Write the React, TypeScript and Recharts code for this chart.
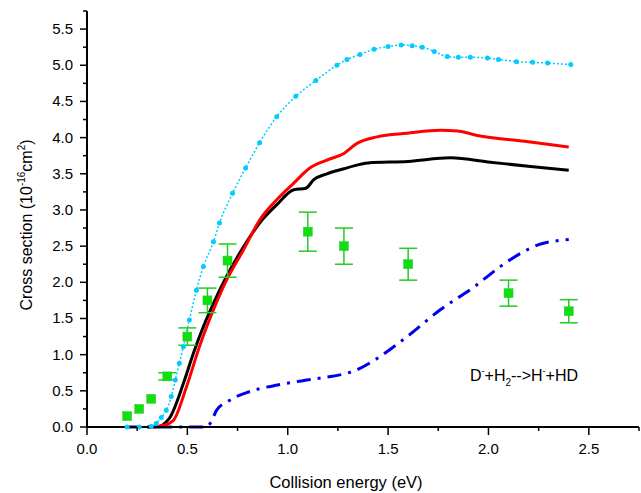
import React from 'react'
import { ComposedChart, Line, Scatter, ErrorBar, XAxis, YAxis } from 'recharts'

// black solid curve
const blackE = [0.3, 0.345, 0.41, 0.48, 0.53, 0.58, 0.63, 0.695, 0.78, 0.86, 0.945, 1.03, 1.09, 1.13, 1.195, 1.28, 1.36, 1.4, 1.6, 1.81, 2.01, 2.21, 2.4]
const blackS = [0, 0, 0.12, 0.6, 1.02, 1.39, 1.71, 2.08, 2.49, 2.82, 3.07, 3.28, 3.3, 3.42, 3.5, 3.57, 3.63, 3.65, 3.67, 3.72, 3.66, 3.6, 3.55]

// red curve
const redE = [0.33, 0.38, 0.43, 0.495, 0.56, 0.63, 0.695, 0.78, 0.86, 0.945, 1.03, 1.11, 1.195, 1.28, 1.345, 1.445, 1.595, 1.76, 1.845, 1.945, 2.18, 2.4]
const redS = [0, 0.02, 0.09, 0.55, 1.11, 1.62, 2.03, 2.45, 2.86, 3.14, 3.37, 3.58, 3.69, 3.78, 3.92, 4.01, 4.06, 4.1, 4.09, 4.03, 3.95, 3.87]

// cyan dotted curve
const cyanE = [0.2, 0.26, 0.32, 0.345, 0.37, 0.395, 0.42, 0.44, 0.46, 0.48, 0.51, 0.545, 0.58, 0.63, 0.66, 0.725, 0.79, 0.86, 0.945, 1.04, 1.14, 1.245, 1.295, 1.36, 1.43, 1.5, 1.565, 1.62, 1.67, 1.73, 1.795, 1.85, 1.91, 1.995, 2.05, 2.14, 2.22, 2.295, 2.41]
const cyanS = [0, 0, 0.01, 0.05, 0.13, 0.23, 0.42, 0.65, 0.88, 1.11, 1.48, 1.89, 2.22, 2.56, 2.82, 3.23, 3.58, 3.93, 4.29, 4.57, 4.79, 5.0, 5.08, 5.15, 5.22, 5.26, 5.28, 5.27, 5.25, 5.19, 5.12, 5.11, 5.11, 5.1, 5.08, 5.05, 5.04, 5.03, 5.01]

// blue dash-dot curve
const blueE = [0.2, 0.4, 0.595, 0.62, 0.645, 0.7, 0.745, 0.8, 0.86, 0.95, 1.03, 1.195, 1.26, 1.36, 1.43, 1.595, 1.76, 1.93, 2.06, 2.16, 2.26, 2.33, 2.4]
const blueS = [0, 0, 0, 0.08, 0.23, 0.35, 0.42, 0.48, 0.53, 0.58, 0.62, 0.69, 0.72, 0.81, 0.92, 1.25, 1.62, 1.94, 2.22, 2.4, 2.53, 2.57, 2.59]

// experiment (green squares)
const expE = [0.2, 0.26, 0.32, 0.4, 0.5, 0.6, 0.7, 1.1, 1.28, 1.6, 2.1, 2.4]
const expS = [0.15, 0.25, 0.39, 0.7, 1.25, 1.75, 2.3, 2.7, 2.5, 2.25, 1.85, 1.6]
const expErr = [0, 0, 0, 0.05, 0.12, 0.17, 0.23, 0.27, 0.25, 0.22, 0.18, 0.16]

const xTicks = [0, 0.25, 0.5, 0.75, 1, 1.25, 1.5, 1.75, 2, 2.25, 2.5, 2.75]
const yTicks = [0, 0.25, 0.5, 0.75, 1, 1.25, 1.5, 1.75, 2, 2.25, 2.5, 2.75, 3, 3.25, 3.5, 3.75, 4, 4.25, 4.5, 4.75, 5, 5.25, 5.5, 5.75]

const zip = (xs: number[], ys: number[]) => xs.map((x, i) => ({ x, y: ys[i] }))
const black = zip(blackE, blackS)
const red = zip(redE, redS)
const cyan = zip(cyanE, cyanS)
const blue = zip(blueE, blueS)
const exp = expE.map((x, i) => ({ x, y: expS[i], err: expErr[i] }))

const FONT = '"Liberation Sans", Arial, sans-serif'
const isMajor = (v: number) => Math.abs(v * 2 - Math.round(v * 2)) < 1e-6

const BottomTick = ({ x, y, payload }: any) => {
  const major = isMajor(payload.value)
  return (
    <g>
      <line x1={x} x2={x} y1={y} y2={y + (major ? 8 : 4)} stroke="#000" strokeWidth={1.5} />
      {major && payload.value < 2.7 && (
        <text x={x} y={y + 27} textAnchor="middle" fontSize={15} fontFamily={FONT} fill="#000">
          {payload.value.toFixed(1)}
        </text>
      )}
    </g>
  )
}

const TopTick = ({ x, y, payload }: any) => {
  const major = isMajor(payload.value)
  return <line x1={x} x2={x} y1={y} y2={y + (major ? 8 : 4)} stroke="#000" strokeWidth={1.5} />
}

const LeftTick = ({ x, y, payload }: any) => {
  const major = isMajor(payload.value)
  return (
    <g>
      <line x1={x} x2={x - (major ? 7 : 4)} y1={y} y2={y} stroke="#000" strokeWidth={1.5} />
      {major && (
        <text x={x - 14} y={y + 5} textAnchor="end" fontSize={15} fontFamily={FONT} fill="#000">
          {payload.value.toFixed(1)}
        </text>
      )}
    </g>
  )
}

const RightTick = ({ x, y, payload }: any) => {
  const major = isMajor(payload.value)
  return <line x1={x} x2={x - (major ? 8 : 4)} y1={y} y2={y} stroke="#000" strokeWidth={1.5} />
}

const Square = (props: any) => {
  const { cx, cy } = props
  return <rect x={cx - 4.5} y={cy - 4.5} width={9} height={9} fill="#11dd11" stroke="#33cc33" strokeWidth={0.5} />
}

const axisLine = { stroke: '#000', strokeWidth: 2 }

export default function App() {
  return (
    <div style={{ position: 'absolute', left: 0, top: 0, width: 641, height: 493, background: '#fff' }}>
      <ComposedChart width={641} height={493} margin={{ top: 11, right: 2, bottom: 0, left: 0 }}>
        <XAxis
          dataKey="x"
          type="number"
          domain={[0, 2.75]}
          ticks={xTicks}
          interval={0}
          tickSize={0}
          tickMargin={0}
          tickLine={false}
          axisLine={axisLine}
          height={66}
          tick={<BottomTick />}
          label={{
            content: () => (
              <text x={346} y={488} textAnchor="middle" fontSize={16.5} fontFamily={FONT} fill="#000">
                Collision energy (eV)
              </text>
            ),
          }}
        />
        <XAxis
          xAxisId="top"
          orientation="top"
          dataKey="x"
          type="number"
          domain={[0, 2.75]}
          ticks={xTicks}
          interval={0}
          tickSize={0}
          tickMargin={0}
          tickLine={false}
          axisLine={axisLine}
          height={0}
          tick={<TopTick />}
        />
        <YAxis
          type="number"
          domain={[0, 5.75]}
          ticks={yTicks}
          interval={0}
          tickSize={0}
          tickMargin={0}
          tickLine={false}
          axisLine={axisLine}
          width={87}
          tick={<LeftTick />}
          label={{
            content: () => (
              <text transform="rotate(-90)" x={-225} y={32} textAnchor="middle" fontSize={16} fontFamily={FONT} fill="#000">
                Cross section (10
                <tspan dy={-7} fontSize={10}>-16</tspan>
                <tspan dy={7}>cm</tspan>
                <tspan dy={-7} fontSize={10}>2</tspan>
                <tspan dy={7}>)</tspan>
              </text>
            ),
          }}
        />
        <YAxis
          yAxisId="r"
          orientation="right"
          type="number"
          domain={[0, 5.75]}
          ticks={yTicks}
          interval={0}
          tickSize={0}
          tickMargin={0}
          tickLine={false}
          axisLine={axisLine}
          width={0}
          tick={<RightTick />}
        />
        <Line
          data={cyan}
          dataKey="y"
          type="monotone"
          stroke="#00ccff"
          strokeWidth={1.5}
          strokeDasharray="2 2"
          dot={{ r: 2.5, fill: '#00ccff', stroke: 'none' }}
          isAnimationActive={false}
        />
        <Line
          data={blue}
          dataKey="y"
          type="monotone"
          stroke="#0000ee"
          strokeWidth={3}
          strokeDasharray="14 7 3 7"
          dot={false}
          isAnimationActive={false}
        />
        <Line data={black} dataKey="y" type="monotone" stroke="#000" strokeWidth={3} dot={false} isAnimationActive={false} />
        <Line data={red} dataKey="y" type="monotone" stroke="#ff0000" strokeWidth={3} dot={false} isAnimationActive={false} />
        <Scatter data={exp} dataKey="y" shape={<Square />} isAnimationActive={false}>
          <ErrorBar dataKey="err" direction="y" width={9} stroke="#22cc22" strokeWidth={1.5} isAnimationActive={false} />
        </Scatter>
      </ComposedChart>
      <svg width={641} height={493} style={{ position: 'absolute', left: 0, top: 0, pointerEvents: 'none' }}>
        <text x={470} y={381} fontSize={16} fontFamily={FONT} fill="#000">
          D<tspan dy={-7} fontSize={9}>-</tspan>
          <tspan dy={7}>+H</tspan>
          <tspan dy={5} fontSize={10}>2</tspan>
          <tspan dy={-5}>--&gt;H</tspan>
          <tspan dy={-7} fontSize={9}>-</tspan>
          <tspan dy={7}>+HD</tspan>
        </text>
      </svg>
    </div>
  )
}
